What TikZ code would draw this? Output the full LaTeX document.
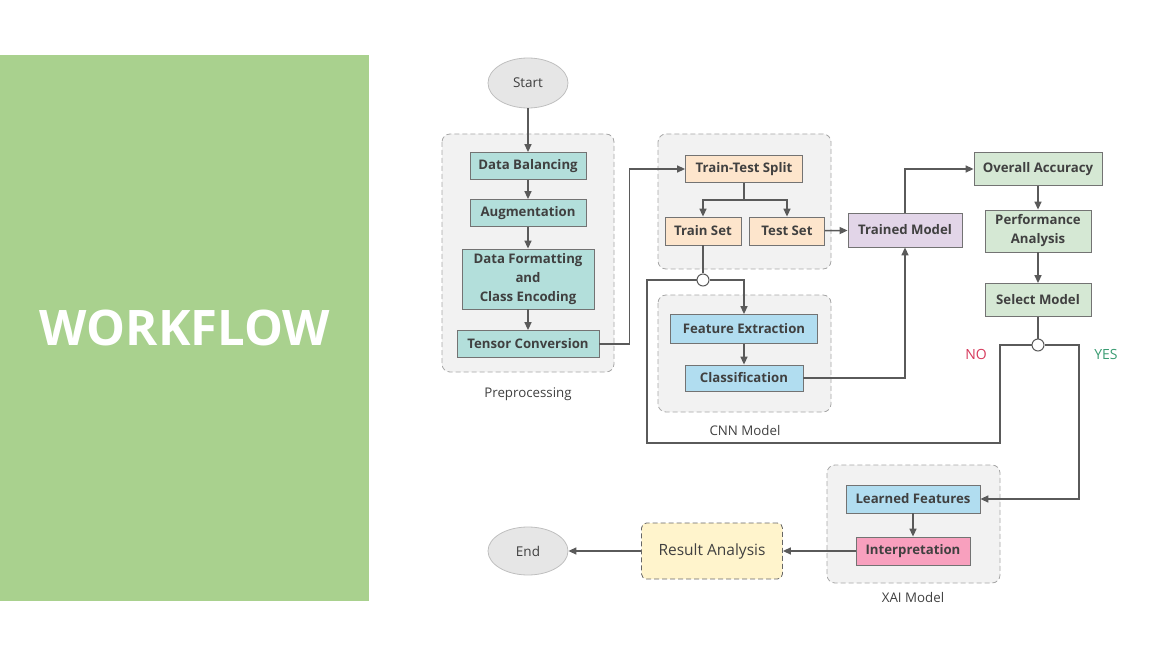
\documentclass[tikz,border=0pt]{standalone}
\usepackage{fontspec}
\setmainfont{Open Sans}
\usepackage{tikz}
\usetikzlibrary{arrows.meta, positioning, shapes.geometric}

\definecolor{panelgreen}{HTML}{A9D18E}
\definecolor{groupfill}{HTML}{F2F2F2}
\definecolor{groupline}{HTML}{A6A6A6}
\definecolor{tealbox}{HTML}{B3DFDB}
\definecolor{orangebox}{HTML}{FDE5CC}
\definecolor{lilacbox}{HTML}{E2D5E8}
\definecolor{greenbox}{HTML}{D5E8D4}
\definecolor{bluebox}{HTML}{B1DDF0}
\definecolor{pinkbox}{HTML}{F8A0BE}
\definecolor{yellowbox}{HTML}{FFF4CC}
\definecolor{ovalfill}{HTML}{E6E6E6}
\definecolor{ovalline}{HTML}{BFBFBF}
\definecolor{txt}{HTML}{404040}
\definecolor{wire}{HTML}{5A5A5A}
\definecolor{nored}{HTML}{D63A5C}
\definecolor{yesgreen}{HTML}{3A9C72}

\begin{document}
\begin{tikzpicture}[x=1pt,y=-1pt,
    box/.style={draw=gray!90!black, line width=0.8pt, font=\fontsize{13.2}{19}\selectfont\bfseries,
      text=txt, inner sep=0pt, align=center},
    oval/.style={ellipse, draw=ovalline, fill=ovalfill, line width=0.8pt, text=txt,
      minimum width=80, minimum height=50, font=\fontsize{13.5}{15}\selectfont},
    group/.style={draw=groupline, fill=groupfill, dashed, dash pattern=on 5pt off 3pt,
      rounded corners=8pt, line width=0.8pt},
    grouplabel/.style={text=txt, font=\fontsize{13.3}{15}\selectfont},
    joint/.style={circle, draw=wire, fill=white, line width=1pt, minimum size=12, inner sep=0pt},
    wireline/.style={draw=wire, line width=1.4pt},
    flow/.style={wireline, -{Triangle[length=8pt,width=7pt]}}]

  \useasboundingbox (0,0) rectangle (1173,655);

  % left title panel
  \fill[panelgreen] (0,55) rectangle (369,601);
  \node[text=white, font=\fontsize{49}{52}\selectfont\bfseries] (title) at (185,328) {WORKFLOW};

  % group backgrounds
  \draw[group] (442,134) rectangle (614,372);
  \draw[group] (658,134) rectangle (831,269);
  \draw[group] (658,295) rectangle (831,412);
  \draw[group] (827,465) rectangle (1000,583);
  \node[grouplabel] (prelbl) at (528,394) {Preprocessing};
  \node[grouplabel] (cnnlbl) at (745,431) {CNN Model};
  \node[grouplabel] (xailbl) at (913,598) {XAI Model};

  % nodes
  \node[oval] (start) at (528,83) {Start};
  \node[box, fill=tealbox, minimum width=116, minimum height=27] (bal) at (528,166) {Data Balancing};
  \node[box, fill=tealbox, minimum width=116, minimum height=27] (aug) at (528,213) {Augmentation};
  \node[box, fill=tealbox, minimum width=132, minimum height=60] (fmt) at (528,279) {Data Formatting\\and\\Class Encoding};
  \node[box, fill=tealbox, minimum width=142, minimum height=27] (tens) at (528,344) {Tensor Conversion};

  \node[box, fill=orangebox, minimum width=117, minimum height=27] (split) at (744,169) {Train-Test Split};
  \node[box, fill=orangebox, minimum width=76, minimum height=28] (trainset) at (703,231) {Train Set};
  \node[box, fill=orangebox, minimum width=75, minimum height=28] (testset) at (787,231) {Test Set};
  \node[box, fill=lilacbox, minimum width=114, minimum height=34] (trained) at (905,230) {Trained Model};

  \node[box, fill=bluebox, minimum width=147, minimum height=29] (feat) at (744,329) {Feature Extraction};
  \node[box, fill=bluebox, minimum width=118, minimum height=26] (clf) at (744,378) {Classification};

  \node[box, fill=greenbox, minimum width=128, minimum height=33] (acc) at (1038,169) {Overall Accuracy};
  \node[box, fill=greenbox, minimum width=106, minimum height=42] (perf) at (1038,231) {Performance\\Analysis};
  \node[box, fill=greenbox, minimum width=106, minimum height=33] (sel) at (1038,300) {Select Model};

  \node[box, fill=bluebox, minimum width=134, minimum height=28] (learn) at (913,499) {Learned Features};
  \node[box, fill=pinkbox, minimum width=114, minimum height=28] (interp) at (913,551) {Interpretation};
  \node[box, fill=yellowbox, draw=gray!80!black, dashed, dash pattern=on 5pt off 3pt, rounded corners=5pt,
    minimum width=141, minimum height=56, font=\fontsize{15.5}{17}\selectfont] (result) at (712,551) {Result Analysis};
  \node[oval, minimum height=48] (end) at (528,551) {End};

  \node[joint] (j1) at (703,280) {};
  \node[joint] (j2) at (1038,345) {};
  \coordinate (noR) at (1000,443);
  \coordinate (noL) at (647,443);
  \coordinate (yesC) at (1079,499);
  \coordinate (fork) at (744,200);

  \node[text=nored, font=\fontsize{14}{16}\selectfont] (nolbl) at (976,354) {NO};
  \node[text=yesgreen, font=\fontsize{14}{16}\selectfont] (yeslbl) at (1106,354) {YES};

  % connectors
  \draw[flow] (start) -- (bal);
  \draw[flow] (bal) -- (aug);
  \draw[flow] (aug) -- (fmt);
  \draw[flow] (fmt) -- (tens);
  \draw[flow] (tens.east) -- ++(30,0) |- (split.west);
  \draw[wireline] (split.south) -- (fork);
  \draw[flow] (fork) -| (trainset.north);
  \draw[flow] (fork) -| (testset.north);
  \draw[flow] (testset) -- (trained);
  \draw[wireline] (trainset) -- (j1);
  \draw[flow] (j1.east) -| (feat.north);
  \draw[flow] (feat) -- (clf);
  \draw[flow] (clf.east) -| (trained.south);
  \draw[flow] (trained.north) |- (acc.west);
  \draw[flow] (acc) -- (perf);
  \draw[flow] (perf) -- (sel);
  \draw[wireline] (sel) -- (j2);
  \draw[wireline] (j2.west) -| (noR) -- (noL) |- (j1.west);
  \draw[flow] (j2.east) -| (yesC) -- (learn.east);
  \draw[flow] (learn) -- (interp);
  \draw[flow] (interp) -- (result);
  \draw[flow] (result) -- (end);
\end{tikzpicture}
\end{document}
